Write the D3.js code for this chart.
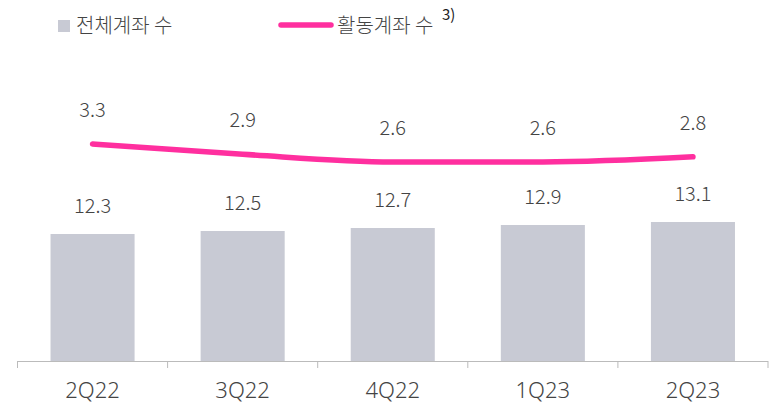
<!DOCTYPE html>
<html>
<head>
<meta charset="utf-8">
<script src="https://cdn.jsdelivr.net/npm/d3@7"></script>
<style>
  body { margin: 0; background: #fff; }
  svg { display: block; font-family: "Noto Sans CJK KR", "Noto Sans", sans-serif; font-weight: 300; }
</style>
</head>
<body>
<svg id="chart" width="772" height="404"></svg>
<script>
// data
const quarters = ["2Q22", "3Q22", "4Q22", "1Q23", "2Q23"];
const totalAccounts = [12.3, 12.5, 12.7, 12.9, 13.1];
const activeAccounts = [3.3, 2.9, 2.6, 2.6, 2.8];
const seriesNames = ["전체계좌 수", "활동계좌 수"];

const barColor = "#c8cad4";
const lineColor = "#ff2f9f";
const textColor = "#444";

const svg = d3.select("#chart");

// scales
const x = d3.scaleBand()
    .domain(quarters)
    .range([17.5, 768])
    .paddingInner(0.44)
    .paddingOuter(0.22);

// bar axis starts above zero (broken axis in the original)
const y = d3.scaleLinear()
    .domain([3.83, 13.1])
    .range([361, 222]);

const yLine = d3.scaleLinear()
    .domain([2.6, 3.3])
    .range([162, 144]);

// bars
svg.selectAll(".bar")
    .data(totalAccounts)
    .enter().append("rect")
    .attr("class", "bar")
    .attr("x", (d, i) => x(quarters[i]))
    .attr("y", d => y(d))
    .attr("width", x.bandwidth())
    .attr("height", d => y.range()[0] - y(d))
    .attr("fill", barColor);

svg.selectAll(".bar-label")
    .data(totalAccounts)
    .enter().append("text")
    .attr("class", "bar-label")
    .attr("x", (d, i) => x(quarters[i]) + x.bandwidth() / 2)
    .attr("y", d => y(d) - 28)
    .attr("dy", "0.35em")
    .attr("text-anchor", "middle")
    .style("font-size", "20px")
    .attr("fill", textColor)
    .text(d => d.toFixed(1));

// x axis
const xAxis = svg.append("g")
    .attr("transform", "translate(0,361)")
    .call(d3.axisBottom(x).tickSize(0).tickPadding(21));
xAxis.select(".domain").attr("stroke", "#bbb").attr("d", "M17.5,0.5H768");
xAxis.selectAll("text")
    .style("font-size", "22px")
    .style("font-family", "'Noto Sans', sans-serif")
    .style("font-weight", 300)
    .attr("fill", textColor);

// separators between categories
const step = x.step();
const edges = d3.range(quarters.length + 1).map(i => x.range()[0] + i * step);
xAxis.selectAll(".sep")
    .data(edges)
    .enter().append("line")
    .attr("x1", d => d).attr("x2", d => d)
    .attr("y1", 0).attr("y2", 7)
    .attr("stroke", "#bbb");

// line
const line = d3.line()
    .x((d, i) => x(quarters[i]) + x.bandwidth() / 2)
    .y(d => yLine(d))
    .curve(d3.curveMonotoneX);

svg.append("path")
    .datum(activeAccounts)
    .attr("d", line)
    .attr("fill", "none")
    .attr("stroke", lineColor)
    .attr("stroke-width", 5.5)
    .attr("stroke-linecap", "round");

svg.selectAll(".line-label")
    .data(activeAccounts)
    .enter().append("text")
    .attr("class", "line-label")
    .attr("x", (d, i) => x(quarters[i]) + x.bandwidth() / 2)
    .attr("y", d => yLine(d) - 34)
    .attr("dy", "0.35em")
    .attr("text-anchor", "middle")
    .style("font-size", "20px")
    .attr("fill", textColor)
    .text(d => d.toFixed(1));

// legend
const legend = svg.append("g");
legend.append("rect")
    .attr("x", 58).attr("y", 20)
    .attr("width", 12).attr("height", 12)
    .attr("fill", barColor);
legend.append("text")
    .attr("x", 76).attr("y", 26).attr("dy", "0.35em")
    .style("font-size", "20px")
    .attr("fill", textColor)
    .text(seriesNames[0]);

legend.append("line")
    .attr("x1", 281).attr("x2", 331)
    .attr("y1", 25).attr("y2", 25)
    .attr("stroke", lineColor)
    .attr("stroke-width", 5.5)
    .attr("stroke-linecap", "round");
legend.append("text")
    .attr("x", 337).attr("y", 26).attr("dy", "0.35em")
    .style("font-size", "20px")
    .attr("fill", textColor)
    .text(seriesNames[1]);
legend.append("text")
    .attr("x", 442).attr("y", 15).attr("dy", "0.35em")
    .style("font-size", "15px")
    .style("font-weight", 400)
    .attr("fill", "#222")
    .text("3)");
</script>
</body>
</html>
